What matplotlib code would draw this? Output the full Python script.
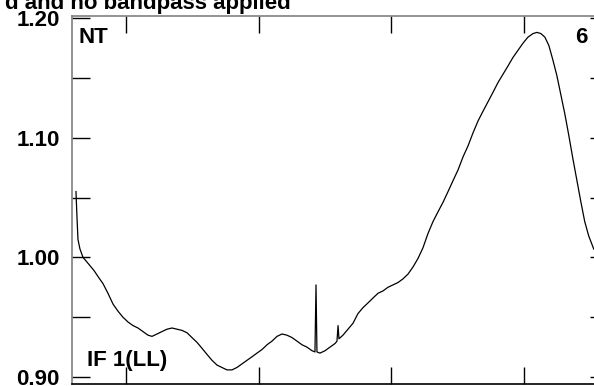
import matplotlib
matplotlib.use('Agg')
import matplotlib.pyplot as plt
from matplotlib.ticker import MultipleLocator

# channel vs. amplitude
channel = [62.3, 63.0, 63.8, 65.3, 67.6, 69.9, 72.9, 75.9, 78.9, 82.7,
           86.4, 90.2, 94.0, 97.7, 101.5, 105.3, 109.0, 112.8, 116.6, 119.6,
           123.4, 127.1, 130.9, 134.7, 138.4, 142.2, 146.0, 149.7, 153.5, 157.3,
           161.0, 164.8, 168.6, 172.3, 176.1, 179.9, 183.6, 187.4, 191.2, 195.0,
           198.7, 202.5, 206.3, 210.0, 213.8, 217.6, 221.3, 225.1, 228.9, 232.6,
           236.4, 240.2, 242.4, 243.2, 243.9, 246.2, 250.0, 253.7, 257.5, 259.0,
           259.8, 260.5, 263.5, 267.3, 271.1, 274.8, 278.6, 282.4, 286.1, 289.9,
           293.7, 297.4, 301.2, 305.0, 308.7, 312.5, 316.3, 320.0, 323.8, 327.6,
           331.4, 335.1, 338.9, 342.7, 346.4, 350.2, 354.0, 357.7, 361.5, 365.3,
           369.0, 372.8, 376.6, 380.3, 384.1, 387.9, 391.6, 395.4, 399.2, 402.9,
           406.7, 409.7, 412.7, 415.7, 418.7, 421.7, 424.7, 427.7, 430.7, 433.7,
           436.7, 439.7, 442.7, 445.7, 448.7, 452.5]
amplitude = [1.055, 1.035, 1.015, 1.007, 1.000, 0.997, 0.993, 0.989, 0.984, 0.978,
             0.970, 0.961, 0.955, 0.950, 0.946, 0.943, 0.941, 0.938, 0.935, 0.934,
             0.936, 0.938, 0.940, 0.941, 0.940, 0.939, 0.937, 0.933, 0.929, 0.924,
             0.919, 0.914, 0.910, 0.908, 0.906, 0.906, 0.908, 0.911, 0.914, 0.917,
             0.920, 0.923, 0.927, 0.930, 0.934, 0.936, 0.935, 0.933, 0.930, 0.927,
             0.925, 0.922, 0.921, 0.977, 0.921, 0.920, 0.922, 0.925, 0.928, 0.930,
             0.943, 0.932, 0.935, 0.940, 0.945, 0.953, 0.958, 0.962, 0.966, 0.970,
             0.972, 0.975, 0.977, 0.979, 0.982, 0.986, 0.992, 0.999, 1.008, 1.020,
             1.030, 1.038, 1.046, 1.055, 1.064, 1.073, 1.084, 1.093, 1.104, 1.114,
             1.122, 1.130, 1.138, 1.146, 1.153, 1.160, 1.167, 1.173, 1.179, 1.184,
             1.187, 1.188, 1.187, 1.184, 1.177, 1.165, 1.152, 1.136, 1.120, 1.102,
             1.083, 1.065, 1.047, 1.030, 1.018, 1.007]

ytick_vals = [0.90, 1.00, 1.10, 1.20]
ytick_labels = ['0.90', '1.00', '1.10', '1.20']
title = 'd and no bandpass applied'

plt.rcParams['font.family'] = ['Liberation Sans', 'DejaVu Sans']
plt.rcParams['font.weight'] = 'bold'

W, H = 594, 386
fig = plt.figure(figsize=(W / 100, H / 100), dpi=100)
ax = fig.add_axes([72 / W, 2 / H, 522 / W, 368 / H])

ax.plot(channel, amplitude, color='black', lw=0.9)

ax.set_xlim(59.3, 452.7)
ax.set_ylim(0.8942, 1.2017)

ax.xaxis.set_major_locator(MultipleLocator(100))
ax.tick_params(axis='x', direction='in', length=12, width=1, top=True,
               bottom=True, labelbottom=False)
ax.set_yticks(ytick_vals, ytick_labels)
ax.set_yticks([0.95, 1.05, 1.15], minor=True)
ax.tick_params(axis='y', which='major', direction='in', length=13, width=1,
               left=True, right=False, labelsize=16, pad=9)
ax.tick_params(axis='y', which='minor', direction='in', length=13, width=1)
for lbl in ax.get_yticklabels():
    lbl.set_fontweight('bold')

# short right-hand ticks every 0.05
sec = ax.secondary_yaxis('right')
sec.set_yticks([0.90, 0.95, 1.00, 1.05, 1.10, 1.15, 1.20])
sec.tick_params(direction='in', length=3, width=1, labelright=False)
sec.spines['right'].set_visible(False)

ax.spines['right'].set_visible(False)
ax.spines['left'].set_color('#808080')
ax.spines['top'].set_color('#808080')
ax.spines['bottom'].set_color('black')
for s in ['left', 'top', 'bottom']:
    ax.spines[s].set_linewidth(1.2)

ax.text(6 / 522, 1 - 11 / 368, 'NT', transform=ax.transAxes, fontsize=16,
        fontweight='bold', va='top', ha='left')
ax.text(516 / 522, 1 - 11 / 368, '6', transform=ax.transAxes, fontsize=16,
        fontweight='bold', va='top', ha='right')
ax.text(15 / 522, 18 / 368, 'IF 1(LL)', transform=ax.transAxes, fontsize=16,
        fontweight='bold', va='baseline', ha='left')

fig.text(291 / W, 1 - 9 / H, title, fontsize=16, fontweight='bold',
         ha='right', va='baseline')

fig.savefig('out.png', dpi=100)
